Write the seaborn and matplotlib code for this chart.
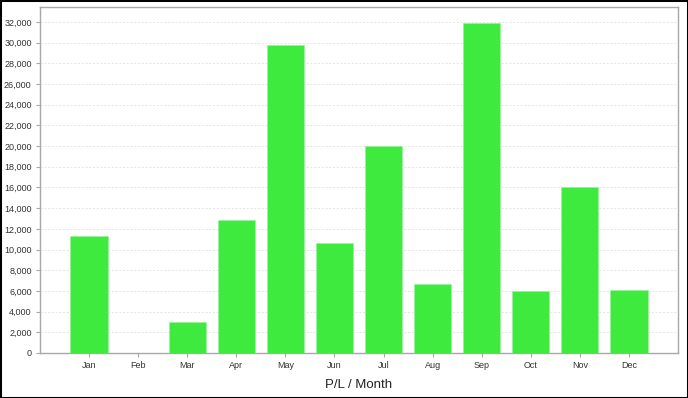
import matplotlib
matplotlib.use("Agg")
import matplotlib.pyplot as plt
import matplotlib.ticker as mticker
import seaborn as sns
import pandas as pd

# datos del gráfico
months = ["Jan", "Feb", "Mar", "Apr", "May", "Jun", "Jul", "Aug", "Sep", "Oct", "Nov", "Dec"]
pl_values = [11300, 0, 3000, 12900, 29800, 10600, 20000, 6700, 31900, 6000, 16000, 6100]
y_ticks = list(range(0, 32001, 2000))

df = pd.DataFrame({"Month": months, "PL": pl_values})

sns.set_theme(style="white")
plt.rcParams["font.family"] = ["Liberation Sans", "DejaVu Sans"]

fig = plt.figure(figsize=(6.88, 3.98), dpi=100)
ax = fig.add_axes([40 / 688, 45 / 398, 638 / 688, 346 / 398])

sns.barplot(data=df, x="Month", y="PL", color="#3EEA3E", saturation=1,
            width=0.76, edgecolor="#9CF29C", linewidth=0.5, ax=ax, zorder=3)

ax.set_xlim(-1, 12)
ax.set_ylim(0, 33450)
ax.set_yticks(y_ticks)
ax.yaxis.set_major_formatter(mticker.FuncFormatter(lambda v, p: f"{int(v):,}"))
ax.grid(axis="y", color="#e0e0e0", linestyle=(0, (2.5, 2)), linewidth=0.6, zorder=0)
ax.set_axisbelow(True)

for s in ax.spines.values():
    s.set_color("#a8a8a8")
    s.set_linewidth(1.0)

ax.tick_params(axis="both", labelsize=6.5, colors="#a8a8a8", labelcolor="#333333",
               length=3, width=0.8, direction="out", pad=3, left=True, bottom=True)
ax.set_ylabel("")
ax.set_xlabel("P/L / Month", fontsize=9.5, color="#222222", labelpad=6)

# borde negro de la figura
fig.patches.append(plt.Rectangle((0, 0), 1, 1, transform=fig.transFigure,
                                 fill=False, edgecolor="black", linewidth=2.2))

fig.savefig("out.png", dpi=100)
